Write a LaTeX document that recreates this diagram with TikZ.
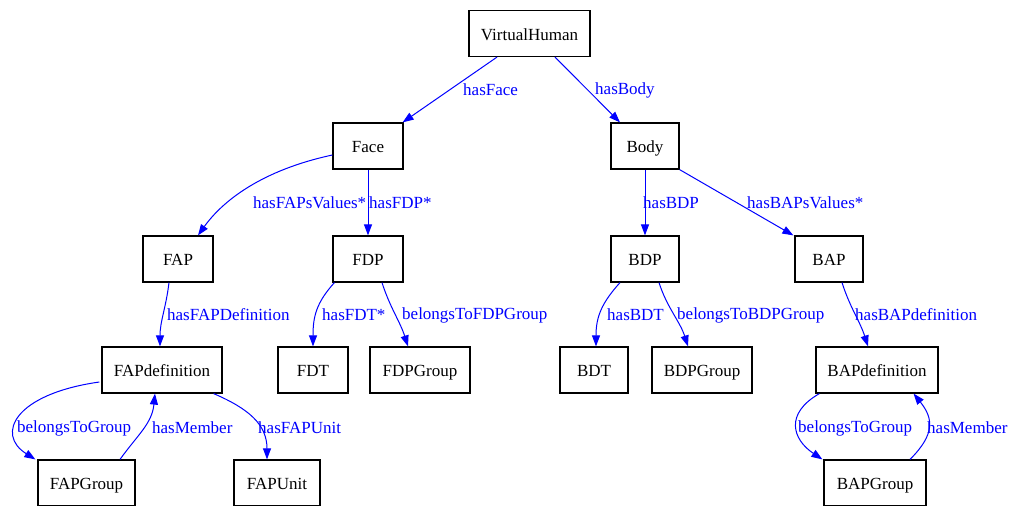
\documentclass[tikz,border=0pt]{standalone}
\usepackage{fontspec}
\setmainfont{Liberation Serif}
\usetikzlibrary{arrows.meta,calc}
\definecolor{edgeblue}{RGB}{0,0,255}
\tikzset{
  box/.style={draw=black, line width=1.2pt, fill=white, inner sep=0pt, minimum height=46pt, text height=14pt, text depth=1pt, font=\fontsize{17}{19}\selectfont},
  edge/.style={draw=edgeblue, line width=1pt, -{Triangle[length=11pt,width=8pt]}},
  lbl/.style={text=edgeblue, inner sep=0pt, anchor=west, font=\fontsize{17}{19}\selectfont}
}
\begin{document}
\begin{tikzpicture}[x=1pt,y=-1pt]
\useasboundingbox (0,0) rectangle (1013,506);
% nodes
\node[box, minimum width=121pt] (vh) at (529.5,33.5) {VirtualHuman};
\node[box, minimum width=70pt] (face) at (368,146) {Face};
\node[box, minimum width=68pt] (body) at (645,146) {Body};
\node[box, minimum width=70pt] (fap) at (178,259) {FAP};
\node[box, minimum width=70pt] (fdp) at (368,259) {FDP};
\node[box, minimum width=68pt] (bdp) at (645,259) {BDP};
\node[box, minimum width=68pt] (bap) at (829,259) {BAP};
\node[box, minimum width=120pt] (fapdef) at (162,370) {FAPdefinition};
\node[box, minimum width=70pt] (fdt) at (313,370) {FDT};
\node[box, minimum width=100pt] (fdpg) at (420,370) {FDPGroup};
\node[box, minimum width=68pt] (bdt) at (594,370) {BDT};
\node[box, minimum width=100pt] (bdpg) at (702,370) {BDPGroup};
\node[box, minimum width=122pt] (bapdef) at (877,370) {BAPdefinition};
\node[box, minimum width=97pt] (fapg) at (86.5,483) {FAPGroup};
\node[box, minimum width=86pt] (fapu) at (277,483) {FAPUnit};
\node[box, minimum width=102pt] (bapg) at (875,483) {BAPGroup};
% edges
\draw[edge] ($(vh.south)+(-32.5,0)$) -- ($(face.north east)+(-1,0)$);
\draw[edge] ($(vh.south)+(25.5,0)$) -- ($(body.north)+(-25,0)$);
\draw[edge] ($(face.west)+(0,9)$) .. controls +(-70,15) and +(25,-35) .. ($(fap.north)+(20,0)$);
\draw[edge] (face) -- (fdp);
\draw[edge] ($(fap.south)+(-9,0)$) .. controls +(-3,25) and +(0,-25) .. ($(fapdef.north)+(-2,0)$);
\draw[edge] ($(fdp.south west)+(2,0)$) .. controls +(-18,20) and +(0,-30) .. (fdt.north);
\draw[edge] ($(fdp.south)+(14,0)$) .. controls +(8,25) and +(-8,-25) .. ($(fdpg.north)+(-12,0)$);
\draw[edge] (body) -- (bdp);
\draw[edge] (body.south east) -- ($(bap.north west)+(-1,0)$);
\draw[edge] ($(bdp.south)+(-25,0)$) .. controls +(-18,20) and +(0,-30) .. ($(bdt.north)+(2,0)$);
\draw[edge] ($(bdp.south)+(14,0)$) .. controls +(8,25) and +(-8,-25) .. ($(bdpg.north)+(-14,0)$);
\draw[edge] ($(bap.south)+(13,0)$) .. controls +(8,25) and +(-8,-25) .. ($(bapdef.north)+(-9,0)$);
\draw[edge] ($(fapdef.west)+(-2,12)$) .. controls +(-85,12) and +(-40,-25) .. ($(fapg.north west)+(-2,0)$);
\draw[edge] ($(fapg.north)+(33.5,0)$) .. controls +(18,-25) and +(-3,30) .. ($(fapdef.south)+(-7,0)$);
\draw[edge] ($(fapdef.south east)+(-9,0)$) .. controls +(35,15) and +(0,-35) .. ($(fapu.north)+(-10,0)$);
\draw[edge] ($(bapdef.south west)+(4,0)$) .. controls +(-35,20) and +(-30,-20) .. ($(bapg.north west)+(-1,0)$);
\draw[edge] ($(bapg.north)+(35,0)$) .. controls +(25,-25) and +(20,25) .. ($(bapdef.south east)+(-25,0)$);
% labels
\node[lbl] (l1) at (463,90) {hasFace};
\node[lbl] (l2) at (595,90) {hasBody};
\node[lbl] (l3) at (253,203) {hasFAPsValues*};
\node[lbl] (l4) at (369,203) {hasFDP*};
\node[lbl] (l5) at (643,203) {hasBDP};
\node[lbl] (l6) at (747,203) {hasBAPsValues*};
\node[lbl] (l7) at (167,315) {hasFAPDefinition};
\node[lbl] (l8) at (322,315) {hasFDT*};
\node[lbl] (l9) at (402,315) {belongsToFDPGroup};
\node[lbl] (l10) at (607,315) {hasBDT};
\node[lbl] (l11) at (677,315) {belongsToBDPGroup};
\node[lbl] (l12) at (855,315) {hasBAPdefinition};
\node[lbl] (l13) at (17,428) {belongsToGroup};
\node[lbl] (l14) at (152,428) {hasMember};
\node[lbl] (l15) at (258,428) {hasFAPUnit};
\node[lbl] (l16) at (798,428) {belongsToGroup};
\node[lbl] (l17) at (927,428) {hasMember};
\end{tikzpicture}
\end{document}
